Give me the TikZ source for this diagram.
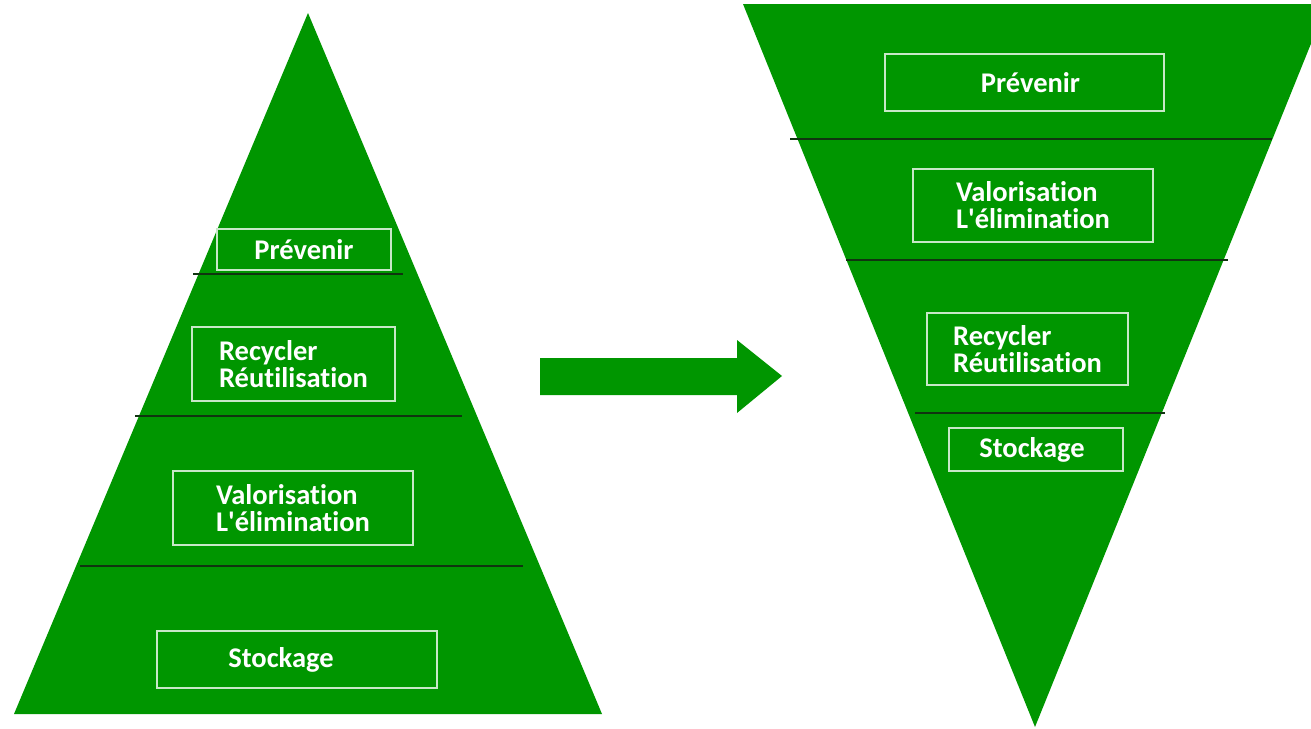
\documentclass[tikz,border=0pt]{standalone}
\usepackage{fontspec}
\setmainfont[Ligatures=NoCommon]{Carlito}
\definecolor{pgreen}{RGB}{0,150,0}
\definecolor{divline}{RGB}{16,52,16}
\definecolor{boxline}{RGB}{200,232,200}
\begin{document}
\begin{tikzpicture}[x=1pt,y=-1pt,
  lbl/.style={draw=boxline,line width=1.8pt,fill=none,text=white,inner sep=0pt,
    font=\bfseries\fontsize{28.5}{27}\selectfont,align=left},
  divider/.style={draw=divline,line width=2.6pt},
  tri/.style={fill=pgreen}]
\useasboundingbox (0,0) rectangle (1311,728);
\clip (0,0) rectangle (1311,728);
% left pyramid
\fill[tri] (308,13) -- (14,714) -- (602,714) -- cycle;
\draw[divider] (193,274) -- (403,274);
\draw[divider] (135,416) -- (462,416);
\draw[divider] (80,566) -- (523,566);
\node[lbl,minimum width=174pt,minimum height=41pt] (lp) at (304,249.5) {Prévenir};
\node[lbl,minimum width=203pt,minimum height=74pt] (lr) at (293.5,364) {Recycler\\Réutilisation};
\node[lbl,minimum width=240pt,minimum height=74pt] (lv) at (293,508) {Valorisation\\L\textquotesingle élimination};
\node[lbl,minimum width=280pt,minimum height=57pt] (ls) at (297,659.5) {\hspace*{-32pt}Stockage};
% arrow
\fill[pgreen] (540,358) -- (737,358) -- (737,340) -- (782,376) -- (737,413) -- (737,395) -- (540,395) -- cycle;
% right inverted pyramid
\fill[tri] (743,4) -- (1327,4) -- (1035,727) -- cycle;
\draw[divider] (790,139) -- (1272,139);
\draw[divider] (846,260) -- (1228,260);
\draw[divider] (915,413) -- (1165,413);
\node[lbl,minimum width=279pt,minimum height=57pt] (rp) at (1024.5,82.5) {\hspace*{12pt}Prévenir};
\node[lbl,minimum width=240pt,minimum height=73pt] (rv) at (1033,205.5) {Valorisation\\L\textquotesingle élimination};
\node[lbl,minimum width=201pt,minimum height=72pt] (rr) at (1027.5,349) {Recycler\\Réutilisation};
\node[lbl,minimum width=174pt,minimum height=43pt] (rs) at (1036,449.5) {\hspace*{-8pt}Stockage};
\end{tikzpicture}
\end{document}
